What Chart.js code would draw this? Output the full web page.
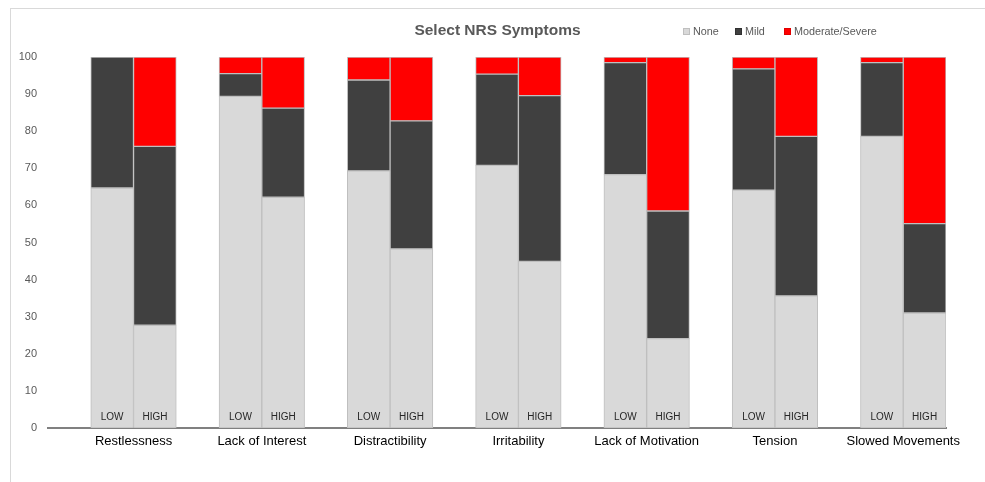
<!DOCTYPE html>
<html>
<head>
<meta charset="utf-8">
<script src="https://cdn.jsdelivr.net/npm/chart.js@4.4.1/dist/chart.umd.min.js"></script>
<style>
  html, body { margin: 0; padding: 0; background: #fff; }
  #wrap { position: relative; width: 985px; height: 482px; overflow: hidden; }
  #frame { position: absolute; left: 10px; top: 8px; width: 1000px; height: 500px; border: 1px solid #d9d9d9; box-sizing: border-box; }
  #title { position: absolute; left: 0; width: 995px; top: 21px; text-align: center; font: bold 15.5px "Liberation Sans", Arial, sans-serif; color: #595959; }
  #legend { position: absolute; top: 24px; left: 683px; font: 10.8px "Liberation Sans", Arial, sans-serif; color: #595959; white-space: nowrap; }
  .li { position: absolute; top: 0; display: flex; align-items: center; height: 14px; }
  .box { width: 7px; height: 7px; margin-right: 3px; box-sizing: border-box; }
  canvas { position: absolute; left: 0; top: 0; }
</style>
</head>
<body>
<div id="wrap">
  <div id="frame"></div>
  <canvas id="c" width="985" height="482"></canvas>
  <div id="title">Select NRS Symptoms</div>
  <div id="legend"></div>
</div>
<script>
const categories = ['Restlessness', 'Lack of Interest', 'Distractibility', 'Irritability', 'Lack of Motivation', 'Tension', 'Slowed Movements'];
const groups = ['LOW', 'HIGH'];
const seriesNames = ['None', 'Mild', 'Moderate/Severe'];
const noneLow  = [64.7, 89.4, 69.3, 70.8, 68.3, 64.1, 78.6];
const mildLow  = [35.3,  6.1, 24.5, 24.6, 30.2, 32.7, 19.9];
const sevLow   = [ 0.0,  4.5,  6.2,  4.6,  1.5,  3.2,  1.5];
const noneHigh = [27.7, 62.2, 48.3, 44.9, 24.1, 35.6, 31.0];
const mildHigh = [48.2, 24.0, 34.5, 44.7, 34.4, 43.0, 24.1];
const sevHigh  = [24.1, 13.8, 17.2, 10.4, 41.5, 21.4, 44.9];
const yTicks = [0, 10, 20, 30, 40, 50, 60, 70, 80, 90, 100];

const colors = ['#d9d9d9', '#404040', '#ff0000'];

// Build slot labels: blank gap, LOW, HIGH for each category
const slotLabels = [];
const slotCat = [];
categories.forEach((c, i) => {
  slotLabels.push(''); slotCat.push(i);
  groups.forEach(g => { slotLabels.push(g); slotCat.push(i); });
});
function build(lowArr, highArr) {
  const out = [];
  categories.forEach((c, i) => { out.push(null); out.push(lowArr[i]); out.push(highArr[i]); });
  return out;
}
const seriesData = [build(noneLow, noneHigh), build(mildLow, mildHigh), build(sevLow, sevHigh)];

// HTML legend
const legendEl = document.getElementById('legend');
const legendX = [0, 52, 101];
seriesNames.forEach((n, i) => {
  const d = document.createElement('div');
  d.className = 'li';
  d.style.left = legendX[i] + 'px';
  const b = document.createElement('span');
  b.className = 'box';
  b.style.background = colors[i];
  b.style.border = '1px solid ' + (i === 0 ? '#bfbfbf' : (i === 1 ? '#303030' : '#e00000'));
  d.appendChild(b);
  const t = document.createElement('span');
  t.textContent = n;
  d.appendChild(t);
  legendEl.appendChild(d);
});

const groupLabelPlugin = {
  id: 'groupLabels',
  afterDatasetsDraw(chart) {
    const x = chart.scales.x, y = chart.scales.y, ctx = chart.ctx;
    ctx.save();
    ctx.font = '10px "Liberation Sans", Arial, sans-serif';
    ctx.fillStyle = '#262626';
    ctx.textAlign = 'center';
    ctx.textBaseline = 'middle';
    slotLabels.forEach((l, i) => {
      if (l) ctx.fillText(l, x.getPixelForValue(i), y.getPixelForValue(0) - 11);
    });
    ctx.restore();
  }
};

new Chart(document.getElementById('c'), {
  type: 'bar',
  data: {
    labels: slotLabels,
    datasets: seriesNames.map((n, i) => ({
      label: n,
      data: seriesData[i],
      backgroundColor: colors[i],
      borderColor: '#bfbfbf',
      borderWidth: 1,
      borderSkipped: false,
      barPercentage: 1,
      categoryPercentage: 1
    }))
  },
  options: {
    responsive: false,
    animation: false,
    devicePixelRatio: 1,
    layout: { padding: { left: 0, right: 39, top: 57, bottom: 0 } },
    plugins: { legend: { display: false }, title: { display: false }, tooltip: { enabled: false } },
    scales: {
      x: {
        stacked: true,
        grid: { display: false, drawTicks: false },
        border: { display: true, color: '#808080', width: 2 },
        afterFit(s) { s.height = 54; },
        ticks: {
          autoSkip: false,
          maxRotation: 0,
          minRotation: 0,
          padding: 6,
          color: '#000000',
          font: { family: '"Liberation Sans", Arial, sans-serif', size: 13 },
          labelOffset: 21.4,
          callback(v, i) { return slotLabels[i] === 'LOW' ? categories[slotCat[i]] : ''; }
        }
      },
      y: {
        stacked: true,
        min: 0,
        max: 100,
        grid: { display: false, drawTicks: false },
        border: { display: false },
        afterFit(s) { s.width = 48; },
        afterBuildTicks(s) { s.ticks = yTicks.map(v => ({ value: v })); },
        ticks: {
          padding: 11,
          color: '#595959',
          font: { family: '"Liberation Sans", Arial, sans-serif', size: 11 }
        }
      }
    }
  },
  plugins: [groupLabelPlugin]
});
</script>
</body>
</html>
